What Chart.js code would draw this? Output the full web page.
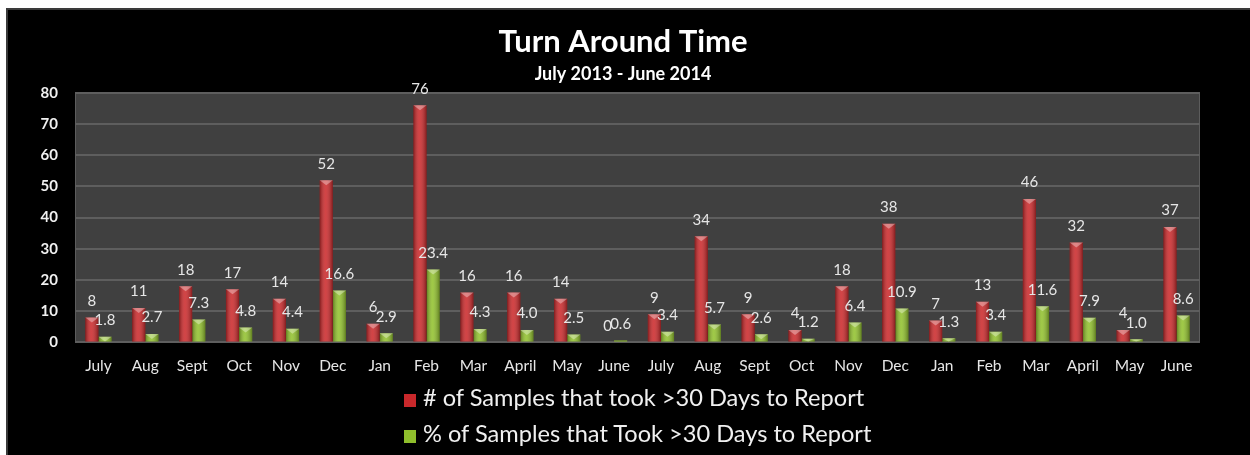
<!DOCTYPE html>
<html>
<head>
<meta charset="utf-8">
<script src="https://cdn.jsdelivr.net/npm/chart.js@4.4.1/dist/chart.umd.min.js"></script>
<style>
  body { margin: 0; background: #fff; }
  #box { position: absolute; left: 6px; top: 8px; width: 1250px; height: 452px; background: #000; border: 2px solid #3a3a3a; }
  #wrap { position: absolute; left: 0; top: 0; width: 1243px; height: 446px; }
  .leg { position: absolute; left: 396px; font-family: Lato, sans-serif; font-size: 23.6px; color: #f0f0f0; white-space: nowrap; }
  .leg span { display: inline-block; width: 12px; height: 13px; margin-right: 7px; vertical-align: -1px; }
</style>
</head>
<body>
<div id="box">
  <div id="wrap"><canvas id="myChart"></canvas></div>
  <div class="leg" style="top:373px"><span style="background:#c8282b"></span># of Samples that took &gt;30 Days to Report</div>
  <div class="leg" style="top:409px"><span style="background:#8fbe2c"></span>% of Samples that Took &gt;30 Days to Report</div>
</div>
<script>
var months = ["July","Aug","Sept","Oct","Nov","Dec","Jan","Feb","Mar","April","May","June",
              "July","Aug","Sept","Oct","Nov","Dec","Jan","Feb","Mar","April","May","June"]
var samples = [8, 11, 18, 17, 14, 52, 6, 76, 16, 16, 14, 0, 9, 34, 9, 4, 18, 38, 7, 13, 46, 32, 4, 37]
var percent = [1.8, 2.7, 7.3, 4.8, 4.4, 16.6, 2.9, 23.4, 4.3, 4.0, 2.5, 0.6, 3.4, 5.7, 2.6, 1.2, 6.4, 10.9, 1.3, 3.4, 11.6, 7.9, 1.0, 8.6]
var yTicks = [0, 10, 20, 30, 40, 50, 60, 70, 80]

// grey plot background
var plotBg = {
    id: 'plotBg',
    beforeDraw: function(chart){
        var a = chart.chartArea, c = chart.ctx
        c.save()
        c.fillStyle = '#404040'
        c.fillRect(a.left, a.top, a.right - a.left, a.bottom - a.top)
        c.strokeStyle = '#5c5c5c'
        c.lineWidth = 1
        c.strokeRect(a.left + 0.5, a.top + 0.5, a.right - a.left - 1, a.bottom - a.top - 1)
        c.restore()
    }
}

// shading on the bars + value labels over them
var barLabels = {
    id: 'barLabels',
    afterDatasetsDraw: function(chart){
        var c = chart.ctx
        c.save()
        chart.data.datasets.forEach(function(ds, i){
            chart.getDatasetMeta(i).data.forEach(function(bar){
                var h = bar.base - bar.y
                if (h < 1) return
                var l = bar.x - bar.width / 2
                var g = c.createLinearGradient(l, 0, l + bar.width, 0)
                g.addColorStop(0, 'rgba(0,0,0,0.35)')
                g.addColorStop(0.45, 'rgba(255,255,255,0.12)')
                g.addColorStop(1, 'rgba(0,0,0,0.35)')
                c.fillStyle = g
                c.fillRect(l, bar.y, bar.width, h)
                // little bevel at the top
                var t = Math.min(5, h)
                c.fillStyle = 'rgba(255,255,255,0.35)'
                c.beginPath()
                c.moveTo(l, bar.y)
                c.lineTo(l + bar.width, bar.y)
                c.lineTo(bar.x, bar.y + t)
                c.closePath()
                c.fill()
            })
        })
        c.font = '15px Lato'
        c.fillStyle = '#e6e6e6'
        c.textAlign = 'center'
        c.textBaseline = 'bottom'
        chart.data.datasets.forEach(function(ds, i){
            chart.getDatasetMeta(i).data.forEach(function(bar, j){
                var v = ds.data[j]
                var txt = i == 0 ? String(v) : v.toFixed(1)
                c.fillText(txt, bar.x, bar.y - 9)
            })
        })
        c.restore()
    }
}

var ctx = document.getElementById("myChart").getContext('2d')
var chart = new Chart(ctx, {
    type: 'bar',
    data: {
        labels: months,
        datasets: [
            { label: "# of Samples that took >30 Days to Report", data: samples,
              backgroundColor: "#cc2a2c", categoryPercentage: 0.56, barPercentage: 1 },
            { label: "% of Samples that Took >30 Days to Report", data: percent,
              backgroundColor: "#92c22e", categoryPercentage: 0.56, barPercentage: 1 }
        ]
    },
    options: {
        responsive: true,
        maintainAspectRatio: false,
        animation: false,
        layout: { padding: { left: 0, right: 13, top: 0, bottom: 75 } },
        plugins: {
            legend: { display: false },
            tooltip: { enabled: false },
            title: { display: true, text: 'Turn Around Time', color: '#ffffff',
                     font: { family: 'Lato', size: 31, weight: 'bold' }, padding: { top: 13, bottom: 2 } },
            subtitle: { display: true, text: 'July 2013 - June 2014', color: '#ffffff',
                        font: { family: 'Lato', size: 18, weight: 'bold' }, padding: { top: 1, bottom: 8 } }
        },
        scales: {
            x: {
                grid: { display: false },
                border: { display: false },
                ticks: { color: '#e6e6e6', font: { family: 'Lato', size: 15.5 }, padding: 6, maxRotation: 0, autoSkip: false }
            },
            y: {
                min: 0, max: 80,
                afterFit: function(s){ s.width = 67 },
                afterBuildTicks: function(s){ s.ticks = yTicks.map(function(v){ return { value: v } }) },
                grid: { color: '#5e5e5e', lineWidth: 2, drawTicks: false },
                border: { display: false },
                ticks: { color: '#f0f0f0', font: { family: 'Lato', size: 15, weight: 'bold' }, padding: 17 }
            },
            // empty right-hand strip so the plot ends where it should
            yRight: {
                position: 'right',
                min: 0, max: 80,
                afterFit: function(s){ s.width = 38 },
                grid: { display: false },
                border: { display: false },
                ticks: { display: false }
            }
        }
    },
    plugins: [plotBg, barLabels]
})
</script>
</body>
</html>
